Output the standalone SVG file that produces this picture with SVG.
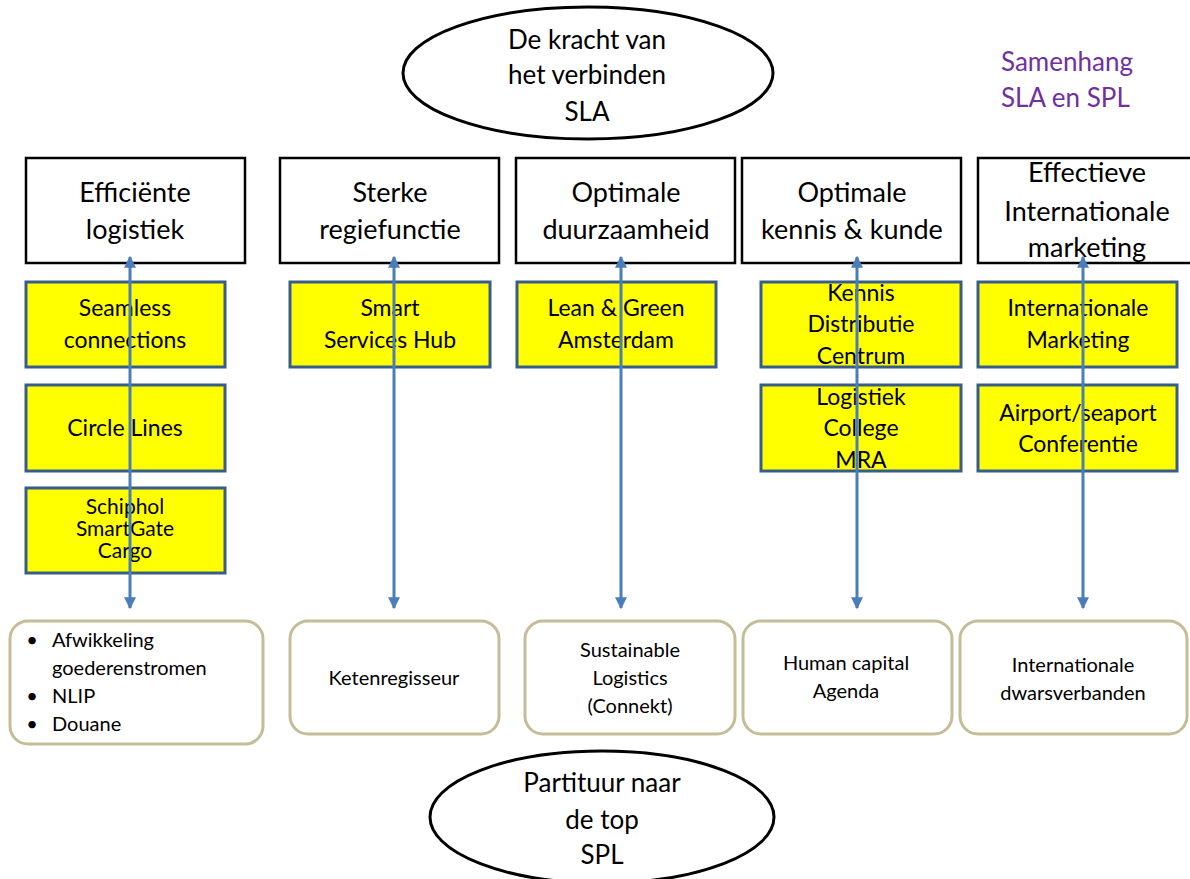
<svg xmlns="http://www.w3.org/2000/svg" width="1190" height="879" viewBox="0 0 1190 879">
<style>
text{font-family:Lato,"Open Sans","Liberation Sans",sans-serif;fill:#000;text-anchor:middle}
.ell{fill:#fff;stroke:#000;stroke-width:3}
.hdr{fill:#fff;stroke:#000;stroke-width:2.5}
.yel{fill:#ffff00;stroke:#385d8a;stroke-width:3}
.res{fill:#fff;stroke:#c4bd97;stroke-width:3}
.t26{font-size:26px}
.t27{font-size:27px}
.t24{font-size:23px}
.t22{font-size:21px}
.t19{font-size:20px}
.pur{font-size:26px;fill:#7030a0;text-anchor:start}
.lnk{stroke:#4a7ebb;stroke-width:3;fill:none;marker-start:url(#ah);marker-end:url(#ah)}
</style>
<defs>
<marker id="ah" viewBox="0 0 10 10" refX="9" refY="5" markerWidth="4" markerHeight="4" orient="auto-start-reverse" markerUnits="strokeWidth">
<path d="M0,0 L10,5 L0,10 z" fill="#4a7ebb"/>
</marker>
</defs>
<rect width="1190" height="879" fill="#fff"/>

<g id="sla">
<ellipse class="ell" cx="588" cy="73" rx="185" ry="66"/>
<text class="t26" x="587" y="49">De kracht van</text>
<text class="t26" x="587" y="84">het verbinden</text>
<text class="t26" x="587" y="121">SLA</text>
</g>

<g id="title">
<text class="pur" x="1001" y="71">Samenhang</text>
<text class="pur" x="1001" y="107">SLA en SPL</text>
</g>

<g id="h1"><rect class="hdr" x="26" y="158" width="219" height="105"/>
<text class="t27" x="135" y="202">Efficiënte</text><text class="t27" x="135" y="239">logistiek</text></g>
<g id="h2"><rect class="hdr" x="280" y="158" width="219" height="105"/>
<text class="t27" x="390" y="202">Sterke</text><text class="t27" x="390" y="239">regiefunctie</text></g>
<g id="h3"><rect class="hdr" x="516" y="158" width="219" height="105"/>
<text class="t27" x="626" y="202">Optimale</text><text class="t27" x="626" y="239">duurzaamheid</text></g>
<g id="h4"><rect class="hdr" x="742" y="158" width="219" height="105"/>
<text class="t27" x="852" y="202">Optimale</text><text class="t27" x="852" y="239">kennis &amp; kunde</text></g>
<g id="h5"><rect class="hdr" x="978" y="158" width="230" height="105"/>
<text class="t27" x="1087" y="182">Effectieve</text><text class="t27" x="1087" y="221">Internationale</text><text class="t27" x="1087" y="257">marketing</text></g>

<g id="y1"><rect class="yel" x="26" y="282" width="199" height="85"/>
<text class="t24" x="125" y="316">Seamless</text><text class="t24" x="125" y="348">connections</text></g>
<g id="y2"><rect class="yel" x="26" y="385" width="199" height="86"/>
<text class="t24" x="125" y="436">Circle Lines</text></g>
<g id="y3"><rect class="yel" x="26" y="488" width="199" height="85"/>
<text class="t22" x="125" y="514">Schiphol</text><text class="t22" x="125" y="536">SmartGate</text><text class="t22" x="125" y="558">Cargo</text></g>
<g id="y4"><rect class="yel" x="290" y="282" width="200" height="85"/>
<text class="t24" x="390" y="316">Smart</text><text class="t24" x="390" y="348">Services Hub</text></g>
<g id="y5"><rect class="yel" x="517" y="282" width="199" height="85"/>
<text class="t24" x="616" y="316">Lean &amp; Green</text><text class="t24" x="616" y="348">Amsterdam</text></g>
<g id="y6"><rect class="yel" x="761" y="282" width="200" height="85"/>
<text class="t24" x="861" y="301">Kennis</text><text class="t24" x="861" y="332">Distributie</text><text class="t24" x="861" y="364">Centrum</text></g>
<g id="y7"><rect class="yel" x="761" y="385" width="200" height="86"/>
<text class="t24" x="861" y="405">Logistiek</text><text class="t24" x="861" y="436">College</text><text class="t24" x="861" y="468">MRA</text></g>
<g id="y8"><rect class="yel" x="978" y="282" width="199" height="85"/>
<text class="t24" x="1078" y="316">Internationale</text><text class="t24" x="1078" y="348">Marketing</text></g>
<g id="y9"><rect class="yel" x="978" y="385" width="199" height="86"/>
<text class="t24" x="1078" y="421">Airport/seaport</text><text class="t24" x="1078" y="452">Conferentie</text></g>

<g id="b1"><rect class="res" x="10" y="621" width="253" height="123" rx="18"/>
<text class="t19" x="32" y="647">•</text><text class="t19" x="52" y="647" style="text-anchor:start">Afwikkeling</text>
<text class="t19" x="52" y="675" style="text-anchor:start">goederenstromen</text>
<text class="t19" x="32" y="703">•</text><text class="t19" x="52" y="703" style="text-anchor:start">NLIP</text>
<text class="t19" x="32" y="731">•</text><text class="t19" x="52" y="731" style="text-anchor:start">Douane</text></g>
<g id="b2"><rect class="res" x="290" y="621" width="209" height="113" rx="18"/>
<text class="t19" x="394" y="685">Ketenregisseur</text></g>
<g id="b3"><rect class="res" x="525" y="621" width="210" height="113" rx="18"/>
<text class="t19" x="630" y="657">Sustainable</text><text class="t19" x="630" y="685">Logistics</text><text class="t19" x="630" y="713">(Connekt)</text></g>
<g id="b4"><rect class="res" x="743" y="621" width="209" height="113" rx="18"/>
<text class="t19" x="846" y="670">Human capital</text><text class="t19" x="846" y="698">Agenda</text></g>
<g id="b5"><rect class="res" x="960" y="621" width="227" height="113" rx="18"/>
<text class="t19" x="1073" y="672">Internationale</text><text class="t19" x="1073" y="700">dwarsverbanden</text></g>

<g id="spl">
<ellipse class="ell" cx="602" cy="817" rx="172" ry="66"/>
<text class="t26" x="602" y="792">Partituur naar</text>
<text class="t26" x="602" y="829">de top</text>
<text class="t26" x="602" y="864">SPL</text>
</g>

<g id="connectors">
<line class="lnk" x1="130" y1="257" x2="130" y2="608"/>
<line class="lnk" x1="394" y1="257" x2="394" y2="608"/>
<line class="lnk" x1="621" y1="257" x2="621" y2="608"/>
<line class="lnk" x1="857" y1="257" x2="857" y2="608"/>
<line class="lnk" x1="1083" y1="257" x2="1083" y2="608"/>
</g>
</svg>
